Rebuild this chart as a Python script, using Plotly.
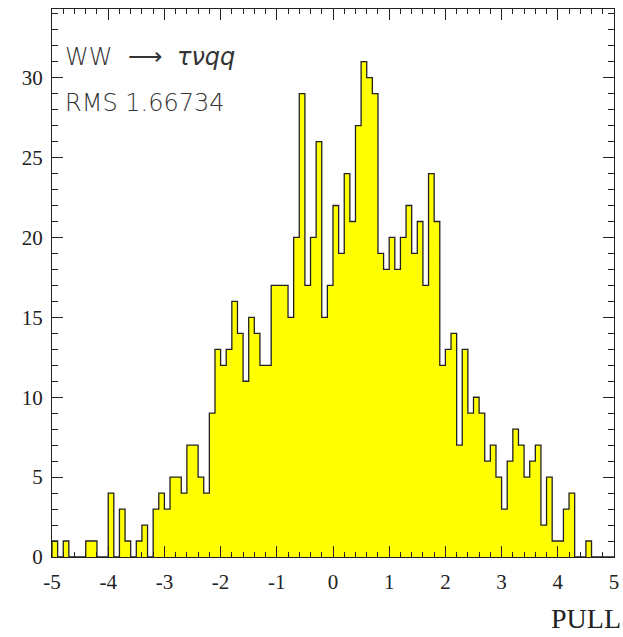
import plotly.graph_objects as go

# Histogram of PULL, 100 bins of width 0.1 from -5 to 5
bin_low = -5.0
bin_width = 0.1
counts = [
    1, 0, 1, 0, 0, 0, 1, 1, 0, 0,
    4, 0, 3, 1, 0, 1, 2, 0, 3, 4,
    3, 5, 5, 4, 7, 7, 5, 4, 9, 13,
    12, 13, 16, 14, 11, 15, 14, 12, 12, 17,
    17, 17, 15, 20, 29, 17, 20, 26, 15, 17,
    22, 19, 24, 21, 27, 31, 30, 29, 19, 18,
    20, 18, 20, 22, 19, 21, 17, 24, 21, 12,
    13, 14, 7, 13, 9, 10, 9, 6, 7, 5,
    3, 6, 8, 7, 5, 6, 7, 2, 5, 1,
    1, 3, 4, 0, 0, 1, 0, 0, 0, 0,
]
x_ticks = [-5, -4, -3, -2, -1, 0, 1, 2, 3, 4, 5]
y_ticks = [0, 5, 10, 15, 20, 25, 30]
label_line1 = "WW  ⟶  <i>τνqq</i>"
label_line2 = "RMS 1.66734"
x_title = "PULL"

n = len(counts)
left_edges = [round(bin_low + i * bin_width, 4) for i in range(n)]
centers = [e + bin_width / 2 for e in left_edges]
x_high = round(bin_low + n * bin_width, 4)

fig = go.Figure()
fig.add_trace(go.Bar(
    x=centers, y=counts, width=bin_width,
    marker=dict(color="#ffff00", line=dict(width=0)),
    hoverinfo="skip", showlegend=False,
))
fig.add_trace(go.Scatter(
    x=[bin_low] + left_edges + [x_high],
    y=[0] + counts + [0],
    mode="lines", line=dict(color="#222222", width=1.3, shape="hv"),
    hoverinfo="skip", showlegend=False,
))

tick_font = dict(family="Liberation Serif", size=21, color="#222222")
text_font = dict(family="DejaVu Sans", size=24, color="#333333", weight=200)
fig.update_layout(
    width=623, height=637,
    margin=dict(l=52, r=4, t=9, b=80),
    paper_bgcolor="white", plot_bgcolor="white",
    bargap=0,
    xaxis=dict(
        range=[bin_low, x_high], tickvals=x_ticks, ticktext=[str(v) for v in x_ticks],
        ticks="inside", ticklen=11, tickwidth=1, tickcolor="#222222",
        minor=dict(dtick=0.2, tick0=-5, ticks="inside", ticklen=5, tickwidth=1, tickcolor="#222222", showgrid=False),
        showline=True, linecolor="#222222", linewidth=1.3, mirror="ticks",
        showgrid=False, zeroline=False, tickfont=tick_font, ticklabelstandoff=6,
        ticklabeloverflow="allow",
    ),
    yaxis=dict(
        range=[0, 34.3], tickvals=y_ticks, ticktext=[str(v) for v in y_ticks],
        ticks="inside", ticklen=11, tickwidth=1, tickcolor="#222222",
        minor=dict(dtick=1, tick0=0, ticks="inside", ticklen=6, tickwidth=1, tickcolor="#222222", showgrid=False),
        showline=True, linecolor="#222222", linewidth=1.3, mirror="ticks",
        showgrid=False, zeroline=False, tickfont=tick_font, ticklabelstandoff=4,
        ticklabeloverflow="allow",
    ),
    annotations=[
        dict(text=label_line1, xref="paper", yref="paper", x=0.02, y=0.912,
             xanchor="left", yanchor="middle", showarrow=False, font=text_font),
        dict(text=label_line2, xref="paper", yref="paper", x=0.02, y=0.828,
             xanchor="left", yanchor="middle", showarrow=False, font=text_font),
        dict(text=x_title, xref="paper", yref="paper", x=1.016, y=-0.112,
             xanchor="right", yanchor="middle", showarrow=False,
             font=dict(family="Liberation Serif", size=28, color="#222222")),
    ],
)

fig.write_html("out.html")
